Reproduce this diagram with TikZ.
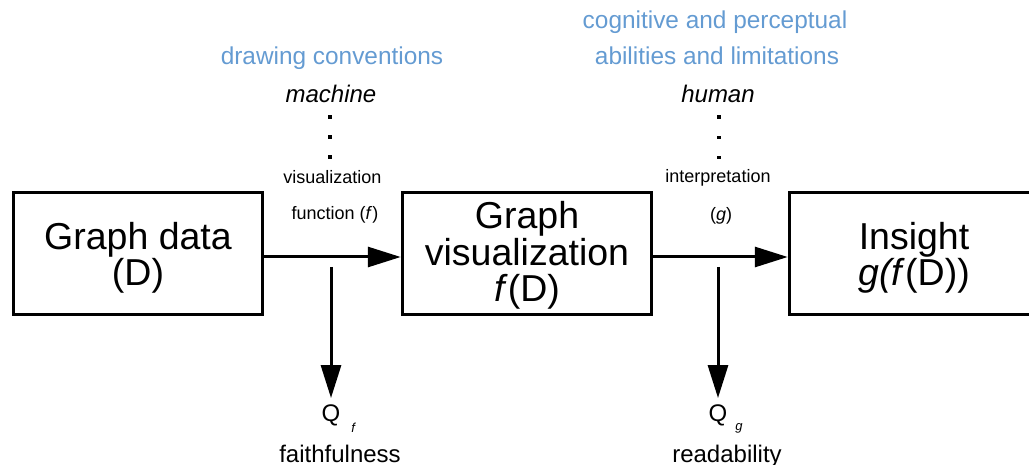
\documentclass[tikz,border=0pt]{standalone}
\usepackage{fontspec}
\setmainfont{Liberation Sans}
\usepackage{xcolor}
\usepackage{tikz}
\usetikzlibrary{arrows.meta}
\definecolor{noteblue}{RGB}{100,155,210}
\newcommand{\stagestrut}[1]{\rule{0pt}{#1}}

\begin{document}
\begin{tikzpicture}[
    x = 1pt, y = -1pt,
    stage/.style = {rectangle,
      draw = black,
      line width = 3.5pt,
      minimum width = 249pt,
      minimum height = 122pt,
      align = center,
      font = \fontsize{37.5}{36.5}\selectfont},
    flow/.style = {line width = 3pt,
      -{Triangle[length = 33pt, width = 20pt]}},
    note/.style = {text = noteblue,
      anchor = base,
      font = \fontsize{24.4}{24.4}\selectfont},
    actor/.style = {anchor = base,
      font = \fontsize{24}{24}\selectfont\itshape},
    fnlabel/.style = {anchor = base,
      font = \fontsize{18}{18}\selectfont},
    measure/.style = {anchor = base,
      inner sep = 0pt,
      font = \fontsize{24}{24}\selectfont},
  ]
  \useasboundingbox (0,0) rectangle (1029,465);

  % the three stages
  \node[stage] (data) at (138,253.5) {\stagestrut{36pt}Graph data\\(D)};
  \node[stage] (vis) at (527,253.5) {\stagestrut{31pt}Graph\\visualization\\\textit{f}(D)};
  \node[stage] (insight) at (914,253.5) {\stagestrut{36pt}Insight\\\textit{g(f}(D))};

  % machine side
  \node[note] (conv) at (332,65) {drawing conventions};
  \node[actor] (machine) at (331,103) {machine};
  \fill (328.2,115.3) rectangle ++(3.6,3.6);
  \fill (328.2,135.3) rectangle ++(3.6,3.6);
  \fill (328.2,155.3) rectangle ++(3.6,3.6);
  \node[fnlabel] (visfn) at (332.5,184) {visualization};
  \node[fnlabel] (fnf) at (335,220) {function (\textit{f})};

  % human side
  \node[note] (cog) at (715,29) {cognitive and perceptual};
  \node[note] (abil) at (717,65) {abilities and limitations};
  \node[actor] (human) at (718,103) {human};
  \fill (717.2,115.5) rectangle ++(3.6,3.6);
  \fill (717.2,135.7) rectangle ++(3.6,3.6);
  \fill (717.2,155.7) rectangle ++(3.6,3.6);
  \node[fnlabel] (interp) at (718,183) {interpretation};
  \node[fnlabel] (fng) at (721,221) {(\textit{g})};

  % quality measures
  \node[measure] (qf) at (331,421) {Q\rlap{\hspace{11pt}\raisebox{-11pt}{\fontsize{13}{13}\selectfont\itshape f}}};
  \node[measure] (faith) at (340,462) {faithfulness};
  \node[measure] (qg) at (718,421) {Q\rlap{\hspace{8pt}\raisebox{-9pt}{\fontsize{13}{13}\selectfont\itshape g}}};
  \node[measure] (read) at (727,462) {readability};

  % arrows
  \coordinate (ftap) at (331,267);
  \coordinate (gtap) at (718,267);
  \draw[flow] ([yshift = -3.5pt]data.east) -- ([yshift = -3.5pt]vis.west);
  \draw[flow] ([yshift = -3.5pt]vis.east) -- ([yshift = -3.5pt]insight.west);
  \draw[flow] (ftap) -- ([yshift = 6pt]qf.north);
  \draw[flow] (gtap) -- ([yshift = 6pt]qg.north);

\end{tikzpicture}
\end{document}
